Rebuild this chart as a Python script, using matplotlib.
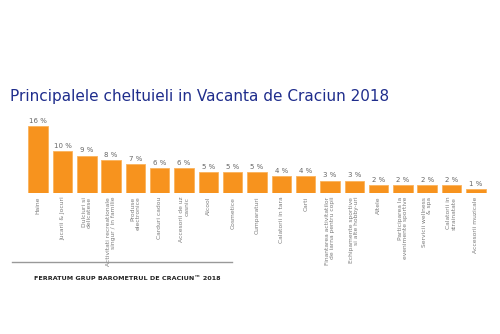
import matplotlib
matplotlib.use("Agg")
import matplotlib.pyplot as plt
from matplotlib.lines import Line2D

# Data
categories = [
    "Haine",
    "Jucarii & Jocuri",
    "Dulciuri si\ndelicatese",
    "Activitati recreationale\nsingur / in familie",
    "Produse\nelectronice",
    "Carduri cadou",
    "Accesorii de uz\ncasnic",
    "Alcool",
    "Cosmetice",
    "Cumparaturi",
    "Calatorii in tara",
    "Carti",
    "Finantarea activitatilor\nde iarna pentru copii",
    "Echipamente sportive\nsi alte hobby-uri",
    "Altele",
    "Participarea la\nevenimente sportive",
    "Servicii wellness\n& spa",
    "Calatorii in\nstrainatate",
    "Accesorii muzicale",
]
values = [16, 10, 9, 8, 7, 6, 6, 5, 5, 5, 4, 4, 3, 3, 2, 2, 2, 2, 1]

title = "Principalele cheltuieli in Vacanta de Craciun 2018"
footer = "FERRATUM GRUP BAROMETRUL DE CRACIUN\u2122 2018"

W, H = 500, 334
fig = plt.figure(figsize=(5, 3.34), dpi=100)
fig.patch.set_facecolor("white")

# axes placed in pixel terms
ax = fig.add_axes([26 / W, (H - 193) / H, (488 - 26) / W, 75 / H])
x = list(range(len(values)))
ax.bar(x, values, width=0.8, color="#f7931e", edgecolor="#fbb35c", linewidth=0.6)
ax.set_ylim(0, 18)
ax.set_xlim(-0.5, len(values) - 0.5)
for s in ax.spines.values():
    s.set_visible(False)
ax.set_yticks([])
ax.set_xticks([])

for xi, v in zip(x, values):
    ax.text(xi, v + 0.5, f"{v} %", ha="center", va="bottom", fontsize=5, color="#666666")
    ax.text(xi, -0.9, categories[xi], rotation=90, ha="center", va="top",
            multialignment="right", fontsize=4.3, color="#7a7a7a", linespacing=1.1)

fig.text(10 / W, 1 - 97 / H, title, fontsize=11, fontweight="medium", color="#1f2d8c",
         va="center", ha="left")

fig.add_artist(Line2D([12 / W, 232 / W], [1 - 262 / H] * 2, color="#999999", lw=1,
                      transform=fig.transFigure))
fig.text(34 / W, 1 - 279 / H, footer, fontsize=4.6, fontweight="bold", color="#222222",
         va="center", ha="left")

fig.savefig("out.png", dpi=100)
